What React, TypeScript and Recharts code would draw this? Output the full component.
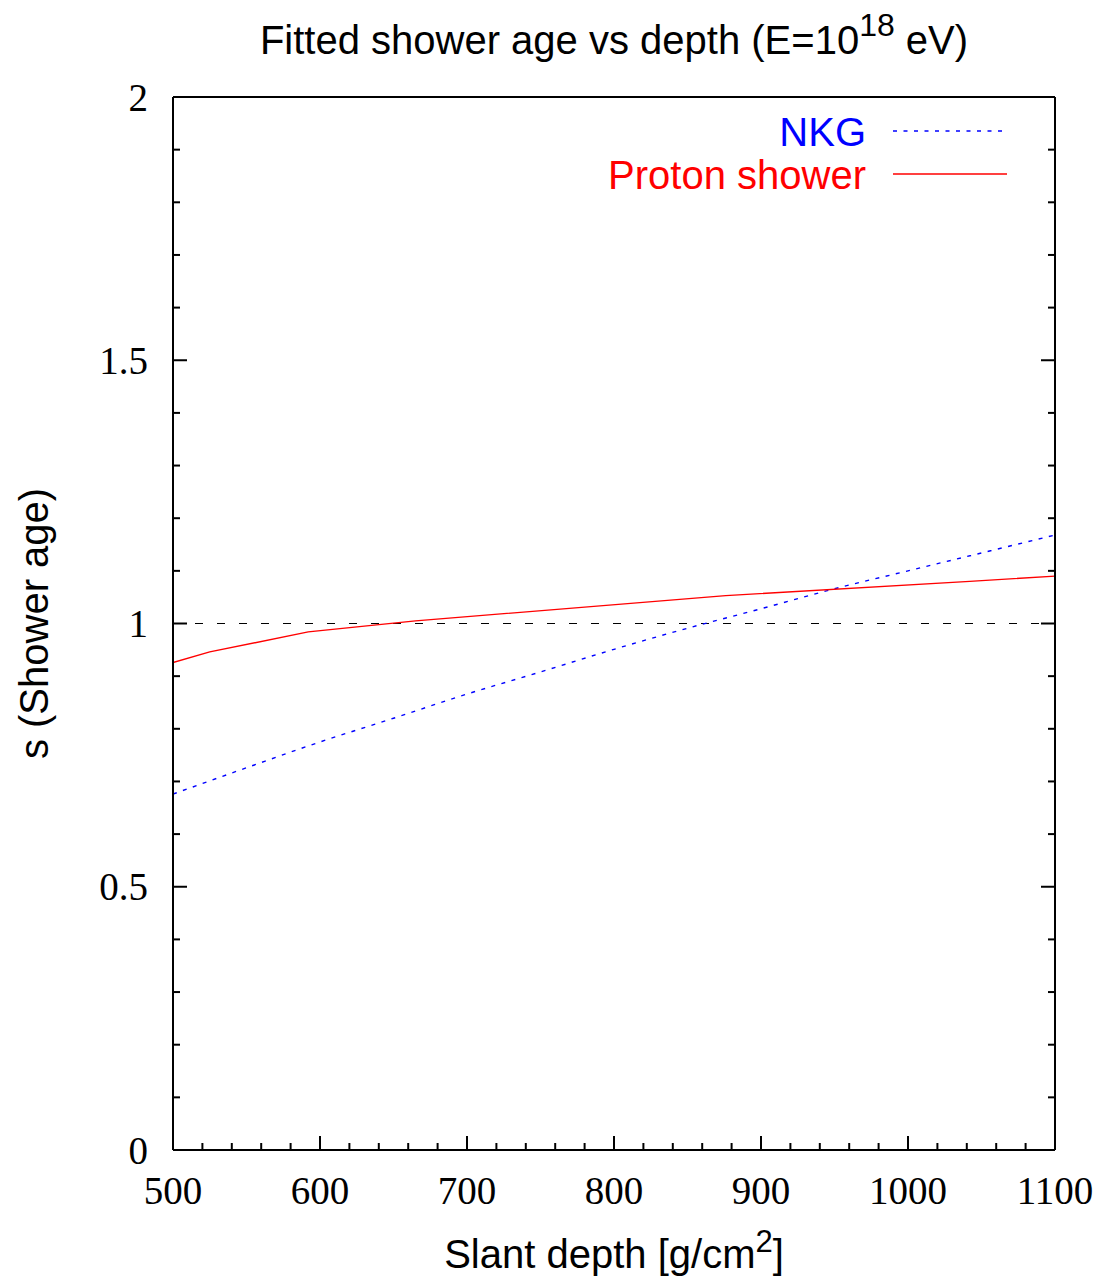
import React from 'react';
import { LineChart, Line, XAxis, YAxis, ReferenceLine, Legend, Label } from 'recharts';

// ---- data ----
const nkgDepth = [500, 550, 600, 650, 700, 750, 800, 850, 900, 950, 1000, 1050, 1100];
const nkgAge = [0.676, 0.726, 0.775, 0.82, 0.866, 0.908, 0.951, 0.991, 1.028, 1.066, 1.1, 1.134, 1.168];
const protonDepth = [500, 525, 592, 665, 876, 1042, 1100];
const protonAge = [0.926, 0.946, 0.984, 1.005, 1.053, 1.08, 1.09];

const xMajorTicks = [500, 600, 700, 800, 900, 1000, 1100];
const xAllTicks = [500, 520, 540, 560, 580, 600, 620, 640, 660, 680, 700, 720, 740, 760, 780, 800, 820, 840, 860, 880, 900, 920, 940, 960, 980, 1000, 1020, 1040, 1060, 1080, 1100];
const yMajorTicks = [0, 0.5, 1, 1.5, 2];
const yAllTicks = [0, 0.1, 0.2, 0.3, 0.4, 0.5, 0.6, 0.7, 0.8, 0.9, 1, 1.1, 1.2, 1.3, 1.4, 1.5, 1.6, 1.7, 1.8, 1.9, 2];
const yTickLabels = ['0', '0.5', '1', '1.5', '2'];

const nkgData = nkgDepth.map((d, i) => ({ depth: d, age: nkgAge[i] }));
const protonData = protonDepth.map((d, i) => ({ depth: d, age: protonAge[i] }));

const SERIF = '"Liberation Serif", "Times New Roman", serif';
const SANS = '"Liberation Sans", Arial, Helvetica, sans-serif';
const MAJOR = 14;
const MINOR = 7;

const isMajorX = (v: number) => xMajorTicks.some((t) => Math.abs(t - v) < 1e-6);
const majorYIndex = (v: number) => yMajorTicks.findIndex((t) => Math.abs(t - v) < 1e-6);

const BottomTick = (props: any) => {
  const { x, y, payload } = props;
  const major = isMajorX(payload.value);
  return (
    <g>
      <line x1={x} y1={y} x2={x} y2={y - (major ? MAJOR : MINOR)} stroke="#000" strokeWidth={2} />
      {major && (
        <text x={x} y={y + 54} textAnchor="middle" fontFamily={SERIF} fontSize={39} fill="#000">
          {payload.value}
        </text>
      )}
    </g>
  );
};

const TopTick = (props: any) => {
  const { x, y, payload } = props;
  const major = isMajorX(payload.value);
  return <line x1={x} y1={y} x2={x} y2={y + (major ? MAJOR : MINOR)} stroke="#000" strokeWidth={2} />;
};

const LeftTick = (props: any) => {
  const { x, y, payload } = props;
  const idx = majorYIndex(payload.value);
  const major = idx >= 0;
  return (
    <g>
      <line x1={x} y1={y} x2={x + (major ? MAJOR : MINOR)} y2={y} stroke="#000" strokeWidth={2} />
      {major && (
        <text x={x - 25} y={y + 13.5} textAnchor="end" fontFamily={SERIF} fontSize={39} fill="#000">
          {yTickLabels[idx]}
        </text>
      )}
    </g>
  );
};

const RightTick = (props: any) => {
  const { x, y, payload } = props;
  const major = majorYIndex(payload.value) >= 0;
  return <line x1={x} y1={y} x2={x - (major ? MAJOR : MINOR)} y2={y} stroke="#000" strokeWidth={2} />;
};

const XLabel = (props: any) => {
  const vb = props.viewBox || { x: 173, y: 1150, width: 882 };
  const cx = vb.x + vb.width / 2;
  return (
    <text x={cx} y={1268} textAnchor="middle" fontFamily={SANS} fontSize={40} fill="#000">
      Slant depth [g/cm
      <tspan dy={-16} fontSize={31}>2</tspan>
      <tspan dy={16}>]</tspan>
    </text>
  );
};

const YLabel = (props: any) => {
  const vb = props.viewBox || { x: 173, y: 97, height: 1053 };
  const cy = vb.y + vb.height / 2;
  const tx = 48;
  return (
    <text
      x={tx}
      y={cy}
      transform={`rotate(-90, ${tx}, ${cy})`}
      textAnchor="middle"
      fontFamily={SANS}
      fontSize={40}
      fill="#000"
    >
      s (Shower age)
    </text>
  );
};

const LegendContent = (props: any) => {
  const payload = props.payload || [];
  const rows = [131, 174];
  return (
    <svg width={1104} height={220} style={{ display: 'block' }}>
      {payload.map((p: any, i: number) => {
        const y = rows[i] ?? 131 + i * 43;
        const dash = p.payload && p.payload.strokeDasharray;
        return (
          <g key={p.value}>
            <text x={866} y={y + 15} textAnchor="end" fontFamily={SANS} fontSize={40} fill={p.color}>
              {p.value}
            </text>
            <line x1={893} y1={y} x2={1007} y2={y} stroke={p.color} strokeWidth={1.3} strokeDasharray={dash} />
          </g>
        );
      })}
    </svg>
  );
};

export default function App() {
  return (
    <div style={{ position: 'absolute', left: 0, top: 0, width: 1104, height: 1279, background: '#fff' }}>
      <svg width={1104} height={80} style={{ position: 'absolute', left: 0, top: 0 }}>
        <text x={614} y={54} textAnchor="middle" fontFamily={SANS} fontSize={40} fill="#000">
          Fitted shower age vs depth (E=10
          <tspan dy={-18} fontSize={32}>18</tspan>
          <tspan dy={18}> eV)</tspan>
        </text>
      </svg>
      <div style={{ position: 'absolute', left: 0, top: 0 }}>
        <LineChart width={1104} height={1279} margin={{ top: 96, right: 48, bottom: 128, left: 172 }}>
          <XAxis
            xAxisId="bottom"
            dataKey="depth"
            type="number"
            domain={[500, 1100]}
            ticks={xAllTicks}
            interval={0}
            height={1}
            tickSize={0}
            tickMargin={0}
            tickLine={false}
            axisLine={{ stroke: '#000', strokeWidth: 2 }}
            tick={<BottomTick />}
            allowDataOverflow
          >
            <Label content={<XLabel />} />
          </XAxis>
          <XAxis
            xAxisId="top"
            orientation="top"
            type="number"
            domain={[500, 1100]}
            ticks={xAllTicks}
            interval={0}
            height={1}
            tickSize={0}
            tickMargin={0}
            tickLine={false}
            axisLine={{ stroke: '#000', strokeWidth: 2 }}
            tick={<TopTick />}
            allowDataOverflow
          />
          <YAxis
            yAxisId="left"
            type="number"
            domain={[0, 2]}
            ticks={yAllTicks}
            interval={0}
            width={1}
            tickSize={0}
            tickMargin={0}
            tickLine={false}
            axisLine={{ stroke: '#000', strokeWidth: 2 }}
            tick={<LeftTick />}
            allowDataOverflow
          >
            <Label content={<YLabel />} />
          </YAxis>
          <YAxis
            yAxisId="right"
            orientation="right"
            type="number"
            domain={[0, 2]}
            ticks={yAllTicks}
            interval={0}
            width={1}
            tickSize={0}
            tickMargin={0}
            tickLine={false}
            axisLine={{ stroke: '#000', strokeWidth: 2 }}
            tick={<RightTick />}
            allowDataOverflow
          />
          <ReferenceLine
            xAxisId="bottom"
            yAxisId="left"
            y={1}
            stroke="#000"
            strokeWidth={1.2}
            strokeDasharray="8 14"
          />
          <Line
            xAxisId="bottom"
            yAxisId="left"
            data={nkgData}
            dataKey="age"
            name="NKG"
            type="monotone"
            stroke="#0000ff"
            strokeWidth={1.4}
            strokeDasharray="4 6.5"
            dot={false}
            activeDot={false}
            isAnimationActive={false}
          />
          <Line
            xAxisId="bottom"
            yAxisId="left"
            data={protonData}
            dataKey="age"
            name="Proton shower"
            type="linear"
            stroke="#ff0000"
            strokeWidth={1.4}
            dot={false}
            activeDot={false}
            isAnimationActive={false}
          />
          <Legend
            layout="horizontal"
            verticalAlign="middle"
            align="center"
            content={<LegendContent />}
            wrapperStyle={{ position: 'absolute', left: 0, top: 0, width: 1104, height: 220, pointerEvents: 'none' }}
          />
        </LineChart>
      </div>
    </div>
  );
}
